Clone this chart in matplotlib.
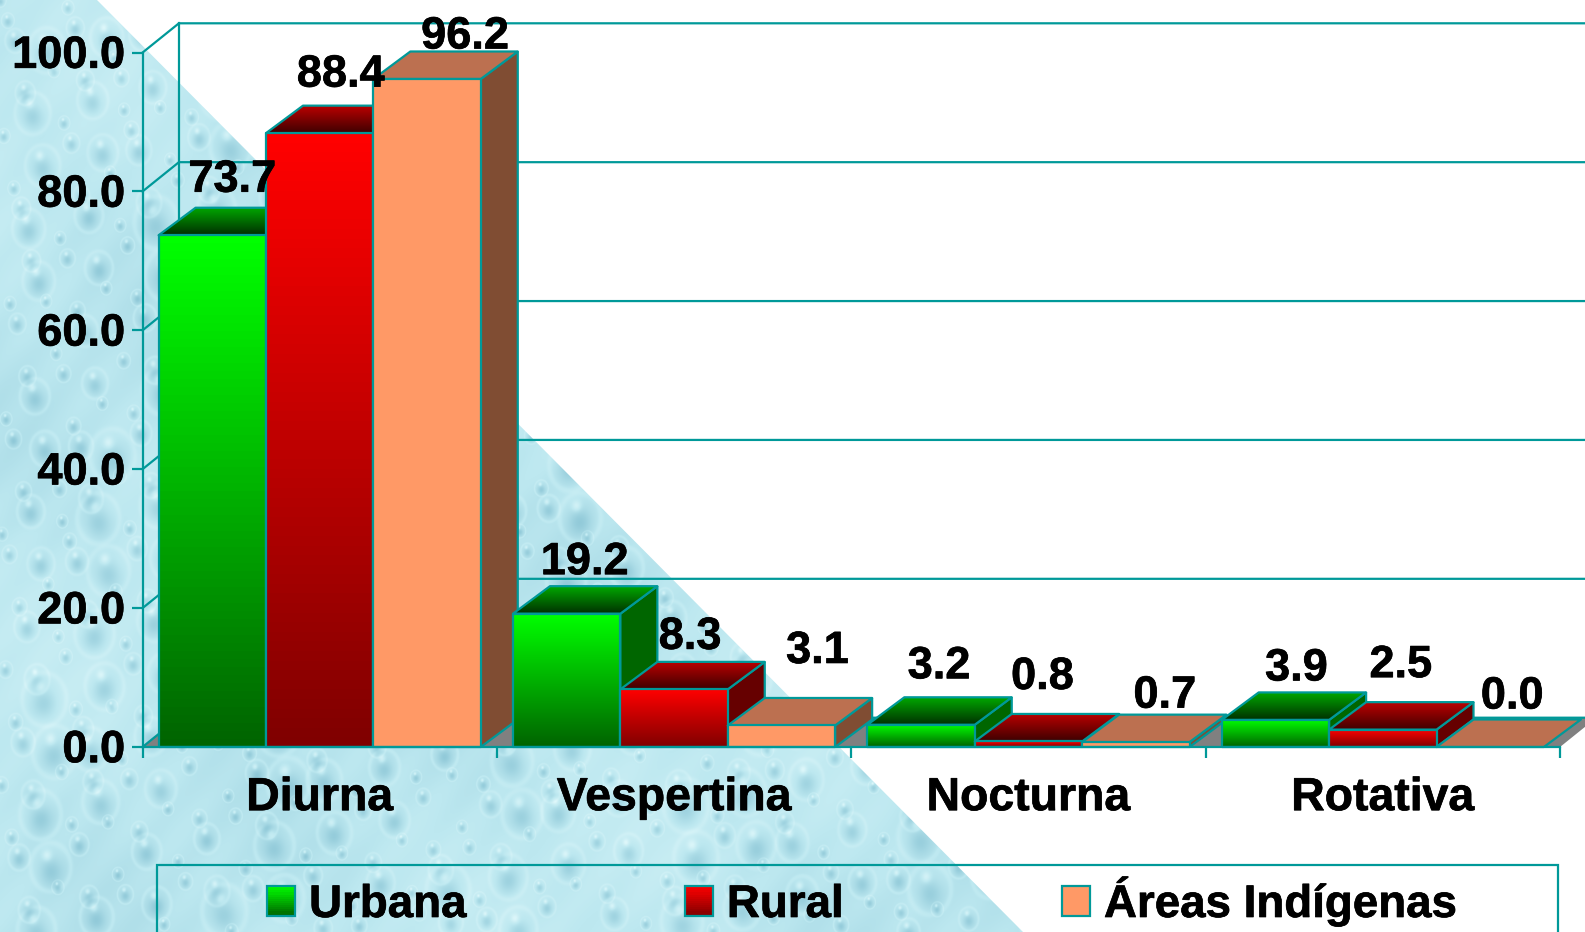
import numpy as np
import matplotlib
matplotlib.use("Agg")
import matplotlib.pyplot as plt
import matplotlib.patheffects as pe
from matplotlib.colors import LinearSegmentedColormap, to_rgb
from matplotlib.patches import Polygon, Patch, Rectangle
from matplotlib.legend_handler import HandlerBase
from matplotlib.transforms import ScaledTranslation

plt.rcParams['font.family'] = ['Liberation Sans', 'DejaVu Sans']
plt.rcParams['font.weight'] = 'bold'

# ---- data ----
categories = ["Diurna", "Vespertina", "Nocturna", "Rotativa"]
series_names = ["Urbana", "Rural", "Áreas Indígenas"]
urbana = [73.7, 19.2, 3.2, 3.9]
rural = [88.4, 8.3, 0.8, 2.5]
indigenas = [96.2, 3.1, 0.7, 0.0]
y_ticks = [0, 20, 40, 60, 80, 100]
y_tick_labels = ["0.0", "20.0", "40.0", "60.0", "80.0", "100.0"]

# label nudges in pixels (dx, up) relative to the centre of each bar's front top edge
label_nudges = [
    [(20, 55), (18, 51), (18, 58), (21, 51)],
    [(21, 58), (16, 52), (14, 64), (18, 64)],
    [(38, 42), (36, 74), (29, 46), (22, 50)],
]

W, H = 1585, 932
TEAL = "#009999"
FS = 32.5
STROKE = [pe.withStroke(linewidth=0.5, foreground="black")]
styles = [
    dict(front=("#00FF00", "#006400"), top=("#00A800", "#003000"), side="#006600"),
    dict(front=("#FF0000", "#800000"), top=("#BC0000", "#400000"), side="#660000"),
    dict(front=("#FF9966", "#FF9966"), top=("#BC7050", "#BC7050"), side="#804D33"),
]

fig = plt.figure(figsize=(W / 100, H / 100), dpi=100, facecolor="white")

# ---- decorative water-drop background ----
bg = fig.add_axes([0, 0, 1, 1], zorder=-1)
bg.set_xlim(0, W)
bg.set_ylim(H, 0)
bg.axis("off")
yy, xx = np.mgrid[0:H, 0:W]
shade = 0.03 * np.sin(xx / 130.0 + yy / 90.0) + 0.015 * np.sin(xx / 37.0 - yy / 53.0) + 0.012 * np.sin(xx / 9.0 + yy / 11.0)
g1, g2 = 0.7548776662, 0.5698402910
for i in range(1300):
    cx = (i * g1) % 1 * W
    cy = (i * g2) % 1 * H
    r = 5 + 15 * ((i * 0.381966) % 1) ** 2.5
    x0, x1 = int(max(cx - 2 * r, 0)), int(min(cx + 2 * r, W))
    y0, y1 = int(max(cy - 2 * r, 0)), int(min(cy + 2 * r, H))
    if x1 <= x0 or y1 <= y0:
        continue
    u = (xx[y0:y1, x0:x1] - cx) / r
    v = (yy[y0:y1, x0:x1] - cy) / (1.2 * r)
    d = u ** 2 + v ** 2
    shade[y0:y1, x0:x1] += (-0.15 * np.exp(-((u ** 2 + (v - 0.2) ** 2) / 0.4))
                            + 0.16 * np.exp(-(((u + 0.2) ** 2 + (v + 0.55) ** 2) / 0.06))
                            + 0.05 * np.exp(-((d - 1.3) ** 2) / 0.1))
tex = LinearSegmentedColormap.from_list("w", ["#8CC6D6", "#BDE8F0", "#E4FAFC"])
im = bg.imshow(shade, cmap=tex, vmin=-0.22, vmax=0.22, extent=(0, W, H, 0), aspect="auto", interpolation="bilinear")
tri = Polygon([(97, 0), (1023, H), (0, H), (0, 0)], closed=True, transform=bg.transData, facecolor="none", edgecolor="none")
bg.add_patch(tri)
im.set_clip_path(tri)

# ---- axes: front plane of the 3D plot ----
L, R, T, B = 142.5, 1560.0, 52.6, 747.0
ax = fig.add_axes([L / W, 1 - B / H, (R - L) / W, (B - T) / H])
ax.patch.set_visible(False)
ax.set_xlim(0, len(categories))
ax.set_ylim(0, 100)
px = len(categories) / (R - L)   # data units per horizontal pixel
py = 100 / (B - T)               # data units per vertical pixel
wall_dx, wall_dy = 36.4 * px, 29.3 * py
bar_dx, bar_dy = 37.0 * px, 27.5 * py
LW = 1.6


def poly(pts, **kw):
    p = Polygon(pts, closed=True, clip_on=False, **kw)
    ax.add_patch(p)
    return p


def grad_poly(pts, c_top, c_bottom, z):
    pts = np.array(pts)
    if to_rgb(c_top) == to_rgb(c_bottom):
        poly(pts, facecolor=c_top, edgecolor=TEAL, lw=LW, joinstyle="round", zorder=z)
        return
    cm = LinearSegmentedColormap.from_list("g", [c_bottom, c_top])
    grad = np.linspace(1, 0, 64).reshape(-1, 1)
    img = ax.imshow(grad, cmap=cm, vmin=0, vmax=1, aspect="auto", zorder=z,
                    extent=(pts[:, 0].min(), pts[:, 0].max(), pts[:, 1].min(), pts[:, 1].max()))
    edge = poly(pts, facecolor="none", edgecolor=TEAL, lw=LW, joinstyle="round", zorder=z + 0.001)
    img.set_clip_box(fig.bbox)
    img.set_clip_path(edge)


# floor and wall
ncat = len(categories)
poly([(0, 0), (wall_dx, wall_dy), (ncat + wall_dx, wall_dy), (ncat, 0)], facecolor="#808080", edgecolor="none", zorder=1)
ax.plot([0, wall_dx, ncat + wall_dx], [0, wall_dy, wall_dy], color=TEAL, lw=LW, clip_on=False, zorder=1.2)
ax.plot([wall_dx, wall_dx], [wall_dy, 100 + wall_dy], color=TEAL, lw=LW, clip_on=False, zorder=1.2)
for t in y_ticks[1:]:
    ax.plot([0, wall_dx, ncat + wall_dx], [t, t + wall_dy, t + wall_dy], color=TEAL, lw=LW, clip_on=False, zorder=1.2)

# bars
all_series = [urbana, rural, indigenas]
nser = len(all_series)
bw = 1 / (nser + 0.3)
z = 2.0
for c in range(ncat):
    for s in range(nser):
        v = all_series[s][c]
        x0 = c + 0.15 * bw + s * bw
        x1 = x0 + bw
        st = styles[s]
        if v > 0:
            poly([(x1, 0), (x1 + bar_dx, bar_dy), (x1 + bar_dx, v + bar_dy), (x1, v)],
                 facecolor=st["side"], edgecolor=TEAL, lw=LW, zorder=z)
        grad_poly([(x0, v), (x0 + bar_dx, v + bar_dy), (x1 + bar_dx, v + bar_dy), (x1, v)],
                  st["top"][0], st["top"][1], z + 0.01)
        if v > 0:
            grad_poly([(x0, 0), (x0, v), (x1, v), (x1, 0)], st["front"][0], st["front"][1], z + 0.02)
        z += 0.1
        nx, ny = label_nudges[s][c]
        ax.annotate(f"{v:.1f}", xy=((x0 + x1) / 2, v), xytext=(nx * 0.72, ny * 0.72), textcoords="offset points",
                    ha="center", va="center", fontsize=FS, fontweight="bold", color="black", zorder=50,
                    annotation_clip=False, path_effects=STROKE)

ax.set_xlim(0, ncat)
ax.set_ylim(0, 100)

# axes furniture
for sp in ("top", "right"):
    ax.spines[sp].set_visible(False)
for sp in ("left", "bottom"):
    ax.spines[sp].set_color(TEAL)
    ax.spines[sp].set_linewidth(LW)
    ax.spines[sp].set_zorder(40)
ax.set_yticks(y_ticks, y_tick_labels, fontsize=FS, fontweight="bold")
ax.tick_params(axis="y", length=8, width=LW, color=TEAL, pad=4.5)
ax.set_xticks(np.arange(ncat) + 0.5, categories, fontsize=FS + 0.9, fontweight="bold")
ax.tick_params(axis="x", which="major", length=0, pad=21)
ax.set_xticks(np.arange(ncat + 1), minor=True)
ax.tick_params(axis="x", which="minor", length=8, width=LW, color=TEAL)
shift = ScaledTranslation(0, 0.8 / 100, fig.dpi_scale_trans)
for lab in ax.get_yticklabels():
    lab.set_transform(lab.get_transform() + shift)
    lab.set_path_effects(STROKE)
for lab in ax.get_xticklabels():
    lab.set_path_effects(STROKE)


# legend
class GradHandler(HandlerBase):
    def create_artists(self, legend, orig, xd, yd, width, height, fontsize, trans):
        top, bot = orig.top_c, orig.bot_c
        cm = LinearSegmentedColormap.from_list("l", [bot, top])
        n = 14
        arts = []
        for i in range(n):
            arts.append(Rectangle((-xd, -yd + height * i / n), width, height / n + 0.2,
                                  facecolor=cm((i + 0.5) / n), edgecolor="none", transform=trans))
        arts.append(Rectangle((-xd, -yd), width, height, facecolor="none", edgecolor=TEAL, lw=LW, transform=trans))
        return arts


handles = []
for st, name in zip(styles, series_names):
    h = Patch(label=name)
    h.top_c, h.bot_c = st["front"]
    handles.append(h)
fig.add_artist(Rectangle((156.7 / W, -0.05), (1558 - 156.7) / W, 1 - 865 / H + 0.05, transform=fig.transFigure,
                         facecolor="none", edgecolor=TEAL, lw=LW))
leg = fig.legend(handles=handles, labels=series_names, handler_map={Patch: GradHandler()}, ncol=3, frameon=False,
                 loc="center left", bbox_to_anchor=(267 / W, 1 - 901.5 / H), bbox_transform=fig.transFigure,
                 borderpad=0, borderaxespad=0, fontsize=FS + 0.4, handlelength=0.62, handleheight=0.62,
                 handletextpad=0.3, columnspacing=4.78, labelspacing=0)
for t in leg.get_texts():
    t.set_path_effects(STROKE)

fig.savefig("out.png", dpi=100, facecolor="white")
